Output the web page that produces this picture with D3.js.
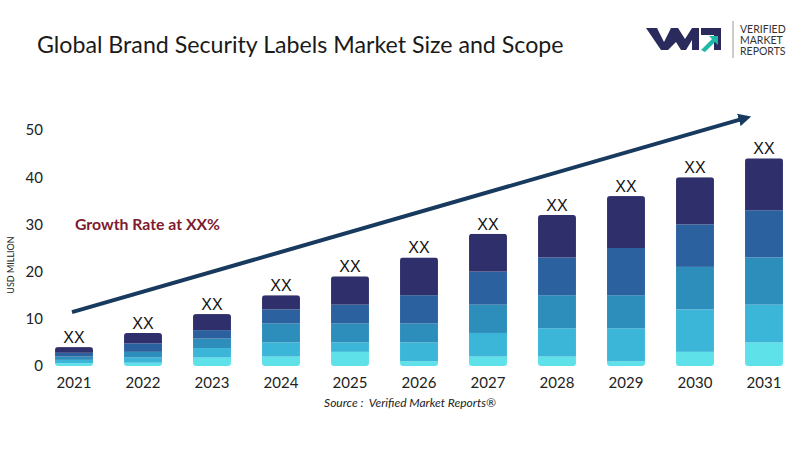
<!DOCTYPE html>
<html><head><meta charset="utf-8">
<script src="https://cdn.jsdelivr.net/npm/d3@7"></script>
<style>
html,body{margin:0;padding:0;background:#fff;}
svg{display:block;font-family:Lato, "Open Sans", sans-serif;}
</style></head>
<body><svg id="c" width="800" height="450"></svg>
<script>
const years = ["2021","2022","2023","2024","2025","2026","2027","2028","2029","2030","2031"];
// stacked segments, bottom (lightest) to top (darkest)
const seg1 = [0.6, 0.7, 1.8, 2, 3, 1, 2, 2, 1, 3, 5];
const seg2 = [0.7, 1.1, 2.0, 3, 2, 4, 5, 6, 7, 9, 8];
const seg3 = [0.7, 1.2, 2.0, 4, 4, 4, 6, 7, 7, 9, 10];
const seg4 = [0.8, 1.8, 1.8, 3, 4, 6, 7, 8, 10, 9, 10];
const seg5 = [1.2, 2.2, 3.4, 3, 6, 8, 8, 9, 11, 10, 11];
const barLabels = ["XX","XX","XX","XX","XX","XX","XX","XX","XX","XX","XX"];
const yTicks = [0, 10, 20, 30, 40, 50];
const segColors = ["#5fe1e9", "#3bb6d8", "#2d8dbb", "#2b619e", "#2f2f6c"];
const arrowFrom = {year: "2021", value: 11.4, dx: -2};
const arrowTo = {year: "2031", value: 52.5, dx: -19};

const svg = d3.select("#c");
const x = d3.scaleBand().domain(years).range([39.5, 798.5]).paddingInner(0.45).paddingOuter(0.225);
const y = d3.scaleLinear().domain([0, 50]).range([366, 130]);

// Title
svg.append("text").attr("x", 37).attr("y", 53).attr("font-size", 23.2).attr("fill", "#1a1a1a")
  .attr("font-family", "Lato, sans-serif").text("Global Brand Security Labels Market Size and Scope");

// Logo
const logo = svg.append("g");
logo.append("path").attr("d", "M646,28 L657,28 L664,42 L671,28 L678,28 L685,39 L692,28 L699,28 L699,50 L692,50 L692,40 L686,50 L681,50 L676,42 L668,50 L661,50 Z").attr("fill", "#2a2a5c");
logo.append("path").attr("d", "M701,28 L721,28 L721,50 L714,50 L714,35 L701,35 Z").attr("fill", "#2a2a5c");
logo.append("path").attr("d", "M701,50 L712,39 L709,36 L718,36 L718,45 L715,42 L705,52 Z").attr("fill", "#1fb7a6");
logo.append("line").attr("x1", 733).attr("x2", 733).attr("y1", 21).attr("y2", 58).attr("stroke", "#999").attr("stroke-width", 1);
["VERIFIED","MARKET","REPORTS"].forEach((t, i) => {
  logo.append("text").attr("x", 740).attr("y", 33 + i * 11).attr("font-size", 10.5).attr("fill", "#333")
    .attr("font-family", "Lato, sans-serif").text(t);
});

// Y axis labels
svg.append("g").selectAll("text").data(yTicks).join("text")
  .attr("x", 43).attr("y", d => y(d)).attr("dy", "0.36em").attr("text-anchor", "end")
  .attr("font-size", 15).attr("fill", "#222").text(d => d);
svg.append("text").attr("transform", "translate(14,265) rotate(-90)").attr("text-anchor", "middle")
  .attr("font-size", 9).attr("fill", "#222").text("USD MILLION");

// Bars
const series = [seg1, seg2, seg3, seg4, seg5];
const data = years.map((yr, i) => {
  const o = {year: yr};
  series.forEach((s, k) => o["s" + k] = s[i]);
  return o;
});
const keys = ["s0","s1","s2","s3","s4"];
const stacked = d3.stack().keys(keys)(data);
const defs = svg.append("defs");
years.forEach((yr, i) => {
  const total = stacked[stacked.length - 1][i][1];
  defs.append("clipPath").attr("id", "cp" + i).append("rect")
    .attr("x", x(yr)).attr("y", y(total)).attr("width", x.bandwidth())
    .attr("height", y(0) - y(total)).attr("rx", 3);
});
const barsG = svg.append("g");
stacked.forEach((layer, k) => {
  barsG.selectAll(null).data(layer).join("rect")
    .attr("clip-path", (d, i) => `url(#cp${i})`)
    .attr("x", d => x(d.data.year)).attr("width", x.bandwidth())
    .attr("y", d => y(d[1])).attr("height", d => y(d[0]) - y(d[1]))
    .attr("fill", segColors[k]);
});
// XX labels
svg.append("g").selectAll("text").data(stacked[stacked.length - 1]).join("text")
  .attr("x", d => x(d.data.year) + x.bandwidth() / 2).attr("y", d => y(d[1]) - 4)
  .attr("text-anchor", "middle").attr("font-size", 16).attr("fill", "#111")
  .attr("font-family", "'Liberation Sans', Arial, sans-serif")
  .text((d, i) => barLabels[i]);

// X axis labels
svg.append("g").selectAll("text").data(years).join("text")
  .attr("x", d => x(d) + x.bandwidth() / 2).attr("y", 388).attr("text-anchor", "middle")
  .attr("font-size", 15).attr("fill", "#222").text(d => d);

// Arrow
defs.append("marker").attr("id", "ah").attr("viewBox", "0 0 10 10").attr("refX", 5).attr("refY", 5)
  .attr("markerWidth", 3.2).attr("markerHeight", 3.2).attr("orient", "auto")
  .append("path").attr("d", "M0,0 L10,5 L0,10 Z").attr("fill", "#173a5e");
svg.append("line")
  .attr("x1", x(arrowFrom.year) + x.bandwidth() / 2 + arrowFrom.dx).attr("y1", y(arrowFrom.value))
  .attr("x2", x(arrowTo.year) + x.bandwidth() / 2 + arrowTo.dx).attr("y2", y(arrowTo.value))
  .attr("stroke", "#173a5e").attr("stroke-width", 4).attr("marker-end", "url(#ah)");

// Growth rate
svg.append("text").attr("x", 75).attr("y", 230).attr("font-size", 15.8).attr("font-weight", "bold")
  .attr("fill", "#7e1b2f").text("Growth Rate at XX%");

// Source
svg.append("text").attr("x", 410).attr("y", 407).attr("text-anchor", "middle").attr("font-size", 12)
  .attr("font-style", "italic").attr("fill", "#222").attr("xml:space", "preserve")
  .style("white-space", "pre").text("Source :  Verified Market Reports®");
</script>
</body></html>
